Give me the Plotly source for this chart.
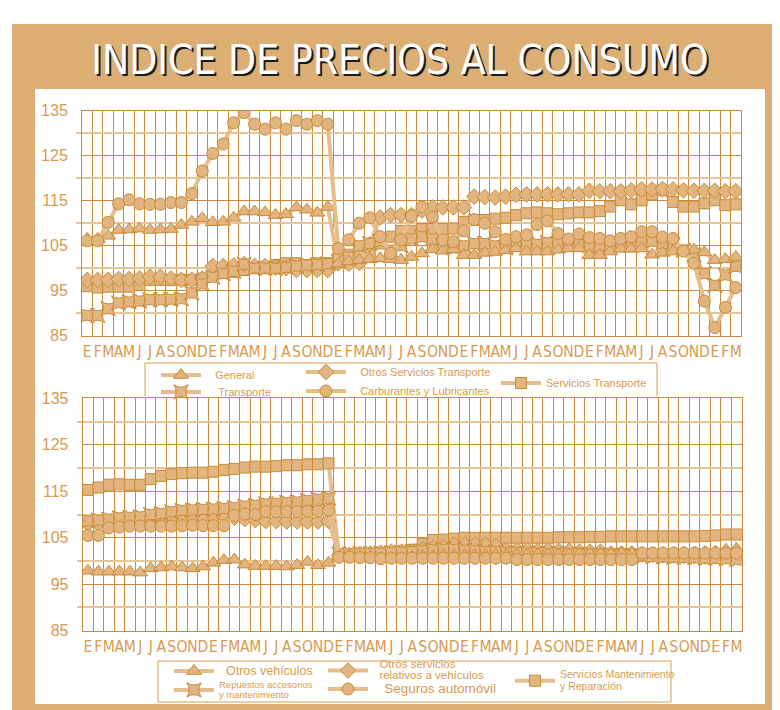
import plotly.graph_objects as go

W, H = 780, 710
PAGE_OFFSET = 8  # margen del body en la pagina

MESES = ["E", "F", "M", "A", "M", "J", "J", "A", "S", "O", "N", "D",
         "E", "F", "M", "A", "M", "J", "J", "A", "S", "O", "N", "D",
         "E", "F", "M", "A", "M", "J", "J", "A", "S", "O", "N", "D",
         "E", "F", "M", "A", "M", "J", "J", "A", "S", "O", "N", "D",
         "E", "F", "M", "A", "M", "J", "J", "A", "S", "O", "N", "D",
         "E", "F", "M"]
MES_IDX = list(range(len(MESES)))

# --- grafico superior ---
general = [106.5, 106.5, 107.2, 108.5, 108.6, 108.8, 108.5, 108.6, 108.7, 109.6, 110.3, 111.1,
           110.2, 110.3, 111.2, 112.6, 112.6, 112.4, 111.8, 112.0, 113.5, 113.0, 112.3, 113.6,
           101.0, 101.5, 101.8, 102.0, 102.2, 102.0, 101.8, 102.5, 103.3, 104.2, 103.9, 104.2,
           102.9, 102.9, 103.4, 103.6, 104.0, 104.4, 103.7, 103.7, 103.7, 104.1, 104.4, 104.4,
           102.9, 102.9, 103.7, 104.3, 104.3, 104.4, 103.0, 103.4, 103.7, 103.9, 104.1, 103.5,
           101.8, 102.0, 102.5]
otros_serv_transp = [97.4, 97.4, 97.4, 97.6, 97.6, 97.7, 98.1, 98.1, 97.7, 97.4, 97.4, 97.7,
                     100.5, 100.5, 100.6, 100.9, 100.5, 100.5, 100.1, 100.0, 99.6, 99.6, 99.6, 99.6,
                     101.1, 101.0, 101.2, 105.3, 111.3, 111.8, 111.8, 111.8, 112.8, 113.5, 113.5, 113.5,
                     113.5, 115.9, 115.8, 115.7, 115.9, 116.3, 116.4, 116.4, 116.4, 116.4, 116.4, 116.4,
                     117.2, 117.1, 117.1, 117.1, 117.3, 117.5, 117.5, 117.6, 117.5, 117.3, 117.2, 117.2,
                     117.2, 117.1, 117.1]
servicios_transp = [96.0, 95.7, 95.9, 95.9, 95.9, 96.3, 97.4, 97.4, 97.4, 97.4, 97.4, 97.7,
                    99.0, 99.0, 99.2, 99.6, 100.0, 100.0, 100.7, 101.1, 101.1, 100.7, 101.1, 101.1,
                    102.2, 103.0, 102.8, 103.0, 105.5, 107.0, 108.3, 108.3, 108.7, 108.7, 108.7, 108.8,
                    110.3, 110.7, 110.7, 111.0, 111.2, 111.8, 112.2, 112.4, 112.2, 112.0, 112.2, 112.4,
                    112.4, 112.7, 113.7, 115.1, 114.2, 115.1, 116.4, 117.3, 114.7, 113.7, 113.7, 114.4,
                    115.1, 114.0, 114.2]
transporte = [89.5, 89.5, 91.0, 92.3, 92.5, 92.7, 93.0, 93.0, 93.1, 93.2, 94.5, 96.5,
              98.0, 98.8, 99.3, 100.9, 100.0, 100.0, 100.0, 100.2, 100.5, 100.7, 100.8, 101.0,
              101.5, 102.5, 105.0, 105.5, 106.0, 104.0, 105.0, 106.5, 107.0, 106.5, 105.0, 104.5,
              105.0, 105.5, 105.5, 105.0, 104.5, 105.0, 105.3, 105.3, 105.7, 105.5, 105.3, 105.5,
              105.0, 105.0, 105.3, 105.5, 105.8, 106.0, 106.0, 105.5, 105.3, 104.0, 103.0, 98.8,
              96.2, 98.5, 100.4]
carburantes = [106.1, 106.1, 110.2, 114.3, 115.2, 114.3, 114.2, 114.2, 114.6, 114.6, 116.6, 121.6,
               125.5, 127.6, 132.3, 134.6, 132.0, 130.9, 132.3, 130.9, 132.8, 132.0, 132.8, 132.0,
               104.4, 106.3, 110.0, 111.2, 107.0, 103.3, 106.3, 111.6, 113.6, 111.4, 106.3, 105.9,
               108.3, 110.8, 110.0, 108.1, 106.4, 107.0, 107.4, 109.7, 110.5, 107.7, 106.5, 107.6,
               106.8, 106.6, 106.1, 106.6, 107.0, 108.1, 108.1, 106.9, 106.6, 103.8, 101.1, 92.7,
               86.8, 91.3, 95.7]

# --- grafico inferior ---
otros_vehiculos = [97.9, 97.7, 97.7, 97.7, 97.7, 97.5, 98.4, 98.6, 98.8, 98.6, 98.4, 98.8,
                   99.6, 100.2, 100.3, 99.2, 98.9, 98.9, 98.9, 98.8, 99.1, 99.8, 99.1, 99.6,
                   101.0, 101.0, 100.8, 100.8, 100.6, 100.6, 100.6, 100.8, 101.0, 101.0, 101.2, 101.2,
                   101.2, 101.2, 101.2, 101.3, 101.3, 101.3, 101.3, 101.4, 101.4, 101.4, 101.4, 101.5,
                   101.5, 101.5, 101.5, 101.6, 101.6, 101.6, 101.6, 101.7, 101.7, 101.8, 101.8, 101.9,
                   102.0, 102.4, 102.6]
repuestos = [108.6, 108.8, 109.0, 109.3, 109.4, 109.5, 110.0, 110.2, 110.6, 110.9, 111.0, 111.1,
             111.2, 111.3, 111.5, 111.8, 112.0, 112.3, 112.4, 112.6, 112.7, 113.0, 113.3, 113.5,
             101.5, 101.5, 101.6, 101.6, 101.7, 101.8, 101.9, 102.0, 102.2, 102.4, 102.5, 102.5,
             102.3, 102.2, 102.0, 102.0, 101.8, 101.8, 101.7, 101.7, 101.6, 101.6, 101.5, 101.5,
             101.4, 101.3, 101.3, 101.2, 101.2, 101.1, 101.0, 100.9, 100.8, 100.8, 100.7, 100.6,
             100.6, 100.5, 100.3]
otros_serv_veh = [108.0, 108.0, 108.3, 108.6, 108.6, 108.6, 108.8, 109.0, 109.3, 109.5, 109.5, 109.5,
                  109.6, 109.7, 109.3, 109.0, 108.8, 108.6, 108.6, 108.5, 108.5, 108.5, 108.5, 108.6,
                  101.2, 101.3, 101.5, 101.6, 101.8, 102.0, 102.0, 102.0, 102.5, 102.8, 102.9, 103.5,
                  103.5, 103.5, 103.5, 103.2, 102.4, 102.4, 102.4, 102.2, 102.4, 102.2, 102.2, 102.0,
                  102.0, 102.0, 101.6, 101.6, 101.6, 101.4, 101.3, 101.2, 101.2, 101.1, 101.1, 101.0,
                  101.0, 101.0, 101.0]
seguros = [105.5, 105.5, 107.1, 107.3, 107.5, 107.5, 107.5, 107.5, 107.5, 107.6, 107.7, 107.6,
           107.6, 107.6, 109.8, 110.1, 110.0, 110.6, 110.6, 110.6, 110.6, 110.7, 110.7, 110.9,
           100.8, 100.8, 100.7, 100.7, 100.5, 100.6, 100.6, 100.6, 100.6, 100.6, 100.6, 100.6,
           100.6, 100.6, 100.6, 100.6, 100.6, 100.3, 100.3, 100.3, 100.3, 100.3, 100.3, 100.3,
           100.3, 100.3, 100.3, 100.3, 100.3, 101.7, 101.7, 101.7, 101.7, 101.7, 101.7, 101.7,
           101.7, 101.7, 101.7]
serv_mantenimiento = [115.3, 115.8, 116.4, 116.5, 116.4, 116.4, 117.6, 118.3, 118.7, 118.9, 119.0, 119.0,
                      119.2, 119.6, 119.8, 120.1, 120.3, 120.3, 120.4, 120.6, 120.6, 120.8, 120.8, 121.0,
                      101.1, 101.1, 101.3, 101.4, 101.5, 101.8, 102.0, 102.4, 103.6, 104.5, 104.6, 104.8,
                      105.0, 105.0, 105.0, 105.0, 105.0, 105.0, 105.0, 105.0, 105.0, 105.1, 105.1, 105.1,
                      105.2, 105.2, 105.3, 105.3, 105.3, 105.3, 105.3, 105.3, 105.3, 105.3, 105.3, 105.4,
                      105.5, 105.7, 105.7]

Y_TICKS = [85, 95, 105, 115, 125, 135]
Y_MINOR = [90, 100, 110, 120, 130]

FRAME = "#dcae74"
LINE = "#e6be8c"
FILL = "#e2b47f"
EDGE = "#c98a35"
GRID = "#cc8b3a"
GRID_LIGHT = "#e8c597"
TEXT = "#d79a4f"
CONDENSED = "DejaVu Sans Condensed, Liberation Sans, sans-serif"
NB = "\u00a0"


def X(px):
    return (px - PAGE_OFFSET) / W


def Y(py):
    return 1 - (py - PAGE_OFFSET) / H


fig = go.Figure()
legends = {}


def add_series(values, name, symbol, size, xa, ya, key, cx, cy, base_size):
    fig.add_trace(go.Scatter(
        x=MES_IDX, y=values, name=name, mode="lines+markers",
        line=dict(color=LINE, width=4),
        marker=dict(symbol=symbol, size=size, color=FILL, line=dict(color=EDGE, width=1)),
        xaxis=xa, yaxis=ya, legend=key, hoverinfo="skip"
    ))
    # one legend per series, placed by the centre of its symbol
    legends[key] = dict(x=X(cx - 25), y=Y(cy), xanchor="left", yanchor="middle",
                        bgcolor="rgba(0,0,0,0)", borderwidth=0, itemwidth=40,
                        font=dict(family="Liberation Sans", size=base_size, color=TEXT))


add_series(servicios_transp, "Servicios Transporte",
           "square", 11, "x", "y", "legend5", 521, 383, 11)
add_series(otros_serv_transp, NB * 3 + "Otros Servicios Transporte",
           "diamond", 12, "x", "y", "legend3", 326, 372, 11)
add_series(transporte, NB * 4 + "Transporte",
           "star-square", 13, "x", "y", "legend2", 181, 392, 11)
add_series(general, NB * 3 + "General",
           "triangle-up", 13, "x", "y", "legend", 181, 375, 11)
add_series(carburantes, NB * 3 + "Carburantes y Lubricantes",
           "circle", 12, "x", "y", "legend4", 326, 391, 11)

add_series(serv_mantenimiento,
           "<span style='font-size:10.5px'>Servicios Mantenimiento<br>y Reparación</span>",
           "square", 11, "x2", "y2", "legend10", 535, 681, 9)
add_series(otros_serv_veh,
           "<span style='font-size:11.5px'>" + NB * 2 + "Otros servicios<br>" + NB * 2 + "relativos a vehículos</span>",
           "diamond", 12, "x2", "y2", "legend8", 348, 671, 8.5)
add_series(repuestos,
           "<span style='font-size:9.5px'>Repuestos accesorios<br>y mantenimiento</span>",
           "star-square", 13, "x2", "y2", "legend7", 194, 690, 8)
add_series(otros_vehiculos,
           "<span style='font-size:12.5px'>" + NB * 2 + "Otros vehículos</span>",
           "triangle-up", 13, "x2", "y2", "legend6", 194, 671, 10)
add_series(seguros,
           "<span style='font-size:13.5px'>" + NB * 3 + "Seguros automóvil</span>",
           "circle", 12, "x2", "y2", "legend9", 348, 689, 10)

xaxis_style = dict(
    range=[-0.5, len(MESES) - 0.5], tickmode="array", tickvals=MES_IDX, ticktext=MESES,
    tickangle=0, automargin=False,
    showgrid=False, ticks="", ticklabelstandoff=2,
    tickfont=dict(family=CONDENSED, size=15.5, color=TEXT),
    showline=True, mirror=True, linecolor=GRID, linewidth=1, zeroline=False,
    minor=dict(tickmode="array", tickvals=[i - 0.5 for i in range(len(MESES) + 1)],
               showgrid=True, gridcolor=GRID, gridwidth=1),
    fixedrange=True
)
yaxis_style = dict(
    range=[85, 135], tickmode="array", tickvals=Y_TICKS, automargin=False,
    showgrid=True, gridcolor=GRID, gridwidth=1, ticks="", ticklabelstandoff=10,
    tickfont=dict(family="Liberation Sans", size=16, color=TEXT),
    showline=True, mirror=True, linecolor=GRID, linewidth=1, zeroline=False,
    minor=dict(tickmode="array", tickvals=Y_MINOR, showgrid=True, gridcolor=GRID_LIGHT,
               gridwidth=2, ticks="outside", ticklen=5, tickcolor=GRID_LIGHT, tickwidth=2),
    fixedrange=True
)

fig.update_layout(
    width=W, height=H,
    margin=dict(l=0, r=0, t=0, b=0, autoexpand=False),
    paper_bgcolor="white", plot_bgcolor="white",
    title=dict(text="INDICE DE PRECIOS AL CONSUMO", x=X(400), y=Y(60),
               xanchor="center", yanchor="middle", automargin=False,
               font=dict(family=CONDENSED, size=40.5, color="white",
                         shadow="2px 2px 0px #1a1a1a")),
    xaxis=dict(domain=[X(82), X(741)], anchor="y", **xaxis_style),
    yaxis=dict(domain=[Y(335.7), Y(110.7)], anchor="x", **yaxis_style),
    xaxis2=dict(domain=[X(82.7), X(741.7)], anchor="y2", **xaxis_style),
    yaxis2=dict(domain=[Y(630.7), Y(398.3)], anchor="x2", **yaxis_style),
    showlegend=True,
    shapes=[
        dict(type="rect", xref="paper", yref="paper", x0=X(12), x1=1, y0=0, y1=Y(24),
             fillcolor=FRAME, line=dict(width=0), layer="below"),
        dict(type="rect", xref="paper", yref="paper", x0=X(35), x1=X(765), y0=Y(704), y1=Y(89),
             fillcolor="white", line=dict(width=0), layer="below"),
        dict(type="path", xref="paper", yref="paper",
             path=f"M {X(145)},{Y(396)} L {X(145)},{Y(363)} L {X(657)},{Y(363)} L {X(657)},{Y(396)}",
             line=dict(color=TEXT, width=1), layer="below"),
        dict(type="rect", xref="paper", yref="paper", x0=X(158), x1=X(671), y0=Y(702), y1=Y(661),
             line=dict(color=TEXT, width=1), layer="below"),
    ],
)
fig.update_layout(**legends)

fig.write_html("out.html")
